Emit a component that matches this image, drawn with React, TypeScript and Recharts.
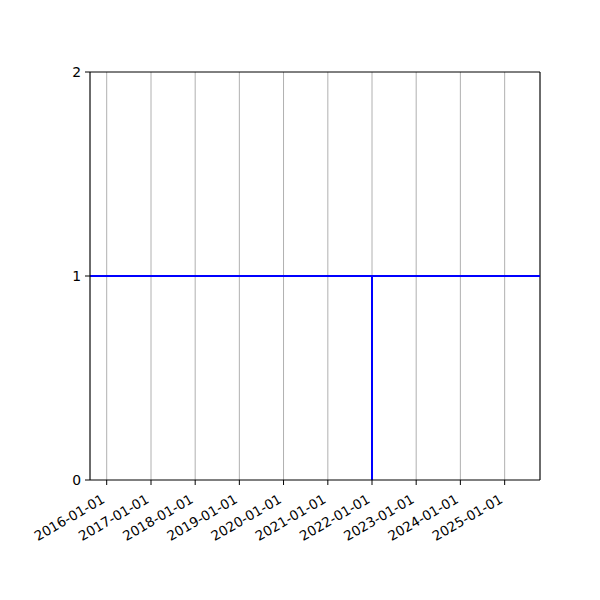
import React from 'react';
import { LineChart, Line, XAxis, YAxis, CartesianGrid, ReferenceLine } from 'recharts';

const day = (s: string) => Date.parse(s + 'T00:00:00Z');

// the series: flat at 1, dropping to 0 for an instant at 2022-01-01
const dates = ['2015-08-16', '2022-01-01', '2022-01-01', '2022-01-01', '2025-10-20'];
const values = [1, 1, 0, 1, 1];

const tickDates = [
    '2016-01-01', '2017-01-01', '2018-01-01', '2019-01-01', '2020-01-01',
    '2021-01-01', '2022-01-01', '2023-01-01', '2024-01-01', '2025-01-01',
];
const yTicks = [0, 1, 2];

const xDomain = [day('2015-08-16'), day('2025-10-20')];

const data = dates.map((d, i) => ({ t: day(d), v: values[i] }));
const xTicks = tickDates.map(day);

const fmt = (t: number) => new Date(t).toISOString().slice(0, 10);

const font = '"DejaVu Sans", sans-serif';

const DateTick = (props: any) => {
    const { x, y, payload } = props;
    const ax = x - 1;
    const ay = y + 15;
    return (
        <text
            x={ax}
            y={ay}
            textAnchor="end"
            fontSize={13.5}
            fontFamily={font}
            fill="#000"
            transform={`rotate(-30, ${ax}, ${ay})`}
        >
            {fmt(payload.value)}
        </text>
    );
};

const App = () => {
    return (
        <div style={{ position: 'absolute', left: 0, top: 0, width: 600, height: 600, background: '#fff' }}>
            <LineChart
                width={600}
                height={600}
                data={data}
                margin={{ top: 72, right: 60, bottom: 40, left: 50 }}
            >
                <CartesianGrid horizontal={false} stroke="#b0b0b0" strokeWidth={1} />
                <XAxis
                    dataKey="t"
                    type="number"
                    scale="time"
                    domain={xDomain}
                    allowDataOverflow
                    ticks={xTicks}
                    interval={0}
                    height={80}
                    tick={<DateTick />}
                    tickSize={5}
                    stroke="#000"
                    tickLine={{ stroke: '#000' }}
                />
                <YAxis
                    type="number"
                    domain={[0, 2]}
                    ticks={yTicks}
                    interval={0}
                    width={40}
                    tickSize={5}
                    tickMargin={4}
                    stroke="#000"
                    tick={{ fill: '#000', fontSize: 13.9, fontFamily: font }}
                />
                <ReferenceLine y={2} stroke="#000" strokeWidth={1} />
                <ReferenceLine x={xDomain[1]} stroke="#000" strokeWidth={1} />
                <Line
                    type="linear"
                    dataKey="v"
                    stroke="#0000ff"
                    strokeWidth={2}
                    dot={false}
                    isAnimationActive={false}
                />
            </LineChart>
        </div>
    );
};

export default App;
